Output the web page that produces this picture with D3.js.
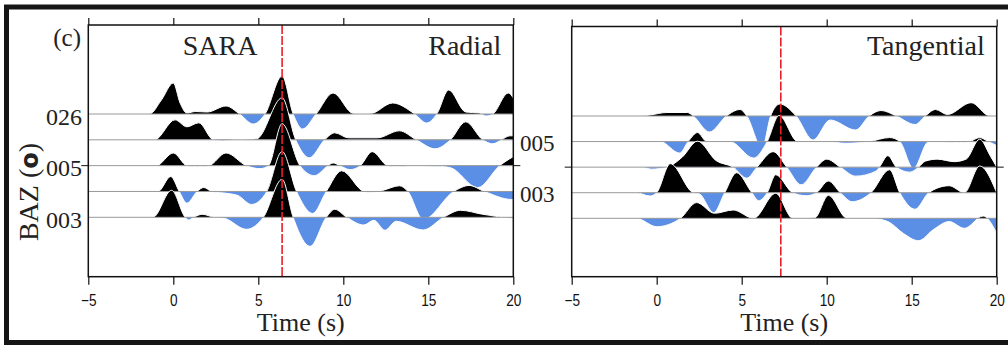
<!DOCTYPE html>
<html>
<head>
<meta charset="utf-8">
<script src="https://cdn.jsdelivr.net/npm/d3@7"></script>
<style>
  body { margin: 0; background: #fff; }
  svg { display: block; }
</style>
</head>
<body>
<div id="chart"></div>
<script>
"use strict";
// receiver functions: [time (s), amplitude]
// radial component, top trace first
const radial1 = [[-5,0],[-1.4,0],[-0.7,14],[0,31],[0.4,11],[0.8,1],[1.3,2.5],[2,2],[3.1,8],[3.9,0],[4.7,-10],[5.4,0],[6.4,38],[7.05,0],[7.6,-15],[8.4,0],[9.4,21],[10.6,0.5],[11.6,0.5],[12.9,11],[14.2,0],[14.9,-9],[15.5,0],[16.2,24],[17.2,2],[18.0,1],[18.4,-2],[18.8,0],[19.7,21],[20,16]]
const radial2 = [[-5,0],[-1.1,0],[0.1,20],[0.8,13],[1.5,17],[2.35,0],[2.9,-1],[3.6,0],[4.9,1],[6.4,42],[7.2,0],[8.0,-18],[8.9,0],[9.5,7],[10.3,2],[12,2],[13.3,9],[14.3,0],[15.4,-9],[16.3,0],[17.2,18],[18.2,0],[18.8,-4],[19.3,0],[19.8,4],[20,4]]
const radial3 = [[-5,0],[-1.0,0],[0,12.7],[0.8,0],[1.4,-1],[2.1,0],[3.1,12.7],[4.3,0],[5.1,-3],[5.6,0],[6.4,42],[7.45,0],[8.3,-10],[9.1,0],[9.4,2.7],[9.8,0],[10.4,-4],[11,0],[11.7,14],[12.6,0],[13.1,-1],[14,0],[15.5,-0.5],[16.3,-2],[17.9,-22],[19.2,0],[20,9]]
const radial4 = [[-5,0],[-0.9,0],[-0.15,15],[0.35,0],[0.8,-11.7],[1.4,0],[1.8,4],[2.25,0],[3.2,-2],[3.8,-4],[4.6,-13],[5.5,0],[6.4,40],[7.25,0],[8.2,-22],[9.0,0],[9.9,20.7],[11.2,0],[11.6,-1],[12.3,1],[13.3,5.7],[13.8,0],[14.7,-28],[16.5,0],[17.4,6],[18.3,0],[19.9,-8],[20,-8]]
const radial5 = [[-5,0],[-1.2,0],[-0.1,27],[0.7,0],[0.9,-2.7],[1.2,0],[1.7,3],[2.4,0],[3.0,-1],[4.3,-12],[5.3,0],[6.4,38],[7.05,0],[8.05,-29],[9.0,0],[9.5,8],[10.2,0],[11.2,-7.7],[11.8,-3],[12.45,-13],[13.1,-4],[14.7,-12.7],[15.9,0],[16.9,7],[18.2,3],[18.6,2],[19.3,0],[20,-1]]

// tangential component
const tang1 = [[-5,0],[-1,0],[-0.4,1],[0.6,3.5],[1.8,3.5],[2.15,0],[3.1,-16],[4.1,0],[4.9,6.5],[5.3,0],[6.2,-32],[6.7,0],[7.25,12],[8.2,0],[9.2,-24],[10.2,-4],[11.7,-14],[12.5,0],[13.2,5.5],[14.1,0],[15.2,-8.5],[15.8,0],[16.4,6.5],[17.1,1.5],[18.5,13.3],[19.6,0],[20,0]]
const tang2 = [[-5,0],[0.2,0],[1.35,-11.5],[1.85,0],[2.4,9],[2.95,0],[4.3,0],[5.7,-16.5],[6.5,0],[7.2,26],[8.3,0],[10,0],[11.1,-1.7],[12.5,0],[13.7,4],[14.3,0],[15.1,-27],[16.0,0],[17.8,-1],[18.4,0],[19.0,4],[19.5,0],[20,-4]]
const tang3 = [[-5,0],[-0.9,0],[-0.3,-2],[0.6,0],[1.5,10],[2.4,26],[3.5,6.5],[4.5,0],[5.3,-11],[5.9,0],[6.85,15.5],[7.65,0],[8.5,-17.7],[9.4,0],[10,8],[10.8,0],[11.7,-9],[12.9,-4],[13.1,0],[13.6,11.5],[14.1,0],[14.9,-5],[15.4,0],[15.8,6],[16.5,8],[17.5,5.5],[18.2,8],[19.0,28],[19.6,12],[20,0]]
const tang4 = [[-5,0],[-1.2,0],[-0.4,-3.3],[0,0],[0.8,29],[2.15,0],[2.5,-1],[3.35,-20],[4.0,0],[4.7,20],[5.6,0],[6.0,-8],[6.5,0],[7.0,18],[8.0,0],[8.8,-3],[9.4,0],[10.1,11.7],[10.8,0],[11.5,-9],[12.6,0],[13.7,23],[14.3,0],[15.2,-16.5],[16.0,0],[17.2,7],[18.1,0],[19.0,26.7],[20,0]]
const tang5 = [[-5,0],[-1.2,0],[0,-8.4],[1.4,0],[2.35,15.7],[3.4,5],[4.5,8.3],[5.7,0],[7.0,25],[8.0,0],[9.3,0.5],[10.1,23],[11.2,0],[12.6,0],[13.6,-3.3],[14.5,-15],[15.4,-22.4],[16.3,-11],[17.2,-3.3],[18.1,-10],[19.2,2.3],[20,-15]]

const timeTicks = [-5, 0, 5, 10, 15, 20]
const radialBazLabels = ["026", "005", "003"]     // traces 1, 3, 5
const tangBazLabels = ["005", "003"]              // traces 2, 4
const phaseTimes = [6.4, 7.3]                      // red dashed markers
const panelTitles = ["Radial", "Tangential"]

const blue = "#5b8fe6"
const serif = "'Liberation Serif', 'Times New Roman', serif"
const svg = d3.select("#chart").append("svg")
    .attr("width", 1008)
    .attr("height", 345)
const defs = svg.append("defs")

// outer frame
svg.append("rect")
    .attr("x", 6.5).attr("y", 7)
    .attr("width", 1010).attr("height", 335.5)
    .attr("fill", "none")
    .attr("stroke", "#151515")
    .attr("stroke-width", 5)

const panels = [
    { traces: [radial1, radial2, radial3, radial4, radial5], x0: 88.3, x1: 513.3, top: 25, bottom: 276.7, base: [114, 217.3] },
    { traces: [tang1, tang2, tang3, tang4, tang5], x0: 571.7, x1: 996.7, top: 26.5, bottom: 276.7, base: [116, 218.3] }
]

// amplitude units are drawn at 1 px per unit, upward
const scaleAmp = d3.scaleLinear().domain([0, 10]).range([0, -10])

panels.forEach((p, pi) => {
    const scaleX = d3.scaleLinear().domain([-5, 20]).range([p.x0, p.x1])
    const scaleBase = d3.scaleLinear().domain([0, p.traces.length - 1]).range(p.base)
    const g = svg.append("g")

    p.traces.forEach((trace, i) => {
        const base = scaleBase(i)
        const upId = `up-${pi}-${i}`
        const downId = `down-${pi}-${i}`
        defs.append("clipPath").attr("id", upId).append("rect")
            .attr("x", p.x0).attr("y", 0).attr("width", p.x1 - p.x0).attr("height", base)
        defs.append("clipPath").attr("id", downId).append("rect")
            .attr("x", p.x0).attr("y", base).attr("width", p.x1 - p.x0).attr("height", 345 - base)

        const area = d3.area()
            .x(d => scaleX(d[0]))
            .y0(base)
            .y1(d => base + scaleAmp(d[1]))
            .curve(d3.curveMonotoneX)
        const line = d3.line()
            .x(d => scaleX(d[0]))
            .y(d => base + scaleAmp(d[1]))
            .curve(d3.curveMonotoneX)

        g.append("path").attr("d", area(trace)).attr("fill", "#000").attr("clip-path", `url(#${upId})`)
        g.append("path").attr("d", area(trace)).attr("fill", blue).attr("clip-path", `url(#${downId})`)
        g.append("path").attr("d", line(trace))
            .attr("fill", "none").attr("stroke", "#fff").attr("stroke-width", 1)
        g.append("line")
            .attr("x1", p.x0).attr("x2", p.x1)
            .attr("y1", base).attr("y2", base)
            .attr("stroke", "#999").attr("stroke-width", 1)
    })

    // phase marker
    g.append("line")
        .attr("x1", scaleX(phaseTimes[pi])).attr("x2", scaleX(phaseTimes[pi]))
        .attr("y1", p.top).attr("y2", p.bottom)
        .attr("stroke", "#e8202a").attr("stroke-width", 1.6)
        .attr("stroke-dasharray", "9,2")

    // frame
    g.append("rect")
        .attr("x", p.x0).attr("y", p.top)
        .attr("width", p.x1 - p.x0).attr("height", p.bottom - p.top)
        .attr("fill", "none").attr("stroke", "#111").attr("stroke-width", 1.5)

    // axes
    const xAxis = d3.axisBottom(scaleX).tickValues(timeTicks).tickSize(8).tickPadding(10).tickSizeOuter(0)
    const topAxis = d3.axisTop(scaleX).tickValues(timeTicks).tickSize(7).tickFormat("").tickSizeOuter(0)
    g.append("g").attr("transform", `translate(0,${p.bottom})`).call(xAxis)
        .attr("font-size", 16)
        .call(a => a.select(".domain").remove())
        .call(a => a.selectAll("line").attr("stroke", "#111").attr("stroke-width", 1.2))
        .call(a => a.selectAll("text")
            .attr("font-family", "'Liberation Sans', Arial, sans-serif")
            .attr("font-size", 16)
            .attr("fill", "#111")
            .attr("transform", "scale(0.85,1)"))
    g.append("g").attr("transform", `translate(0,${p.top})`).call(topAxis)
        .call(a => a.select(".domain").remove())
        .call(a => a.selectAll("line").attr("stroke", "#111").attr("stroke-width", 1.2))

    // middle-trace ticks on both sides
    const mid = scaleBase(2)
    g.append("line").attr("x1", p.x0 - 7).attr("x2", p.x0).attr("y1", mid).attr("y2", mid).attr("stroke", "#111")
    g.append("line").attr("x1", p.x1).attr("x2", p.x1 + 7).attr("y1", mid).attr("y2", mid).attr("stroke", "#111")

    // axis title
    g.append("text")
        .attr("x", (p.x0 + p.x1) / 2).attr("y", 331)
        .attr("text-anchor", "middle")
        .attr("font-family", serif)
        .attr("font-size", 26)
        .attr("fill", "#222")
        .text("Time (s)")

    g.append("text")
        .attr("x", p.x1 - 12).attr("y", 55)
        .attr("text-anchor", "end")
        .attr("font-family", serif)
        .attr("font-size", 28)
        .attr("fill", "#222")
        .text(panelTitles[pi])

    if (pi === 0) {
        radialBazLabels.forEach((lab, k) => {
            g.append("text")
                .attr("x", 82).attr("y", scaleBase(k * 2) + 10.5)
                .attr("text-anchor", "end")
                .attr("font-family", serif)
                .attr("font-size", 24)
                .attr("fill", "#222")
                .text(lab)
        })
    } else {
        tangBazLabels.forEach((lab, k) => {
            g.append("text")
                .attr("x", 520).attr("y", scaleBase(k * 2 + 1) + 9.5)
                .attr("font-family", serif)
                .attr("font-size", 23)
                .attr("fill", "#222")
                .text(lab)
        })
    }
})

svg.append("text")
    .attr("x", 182.7).attr("y", 55)
    .attr("font-family", serif).attr("font-size", 28).attr("fill", "#222")
    .text("SARA")
svg.append("text")
    .attr("x", 81).attr("y", 46)
    .attr("text-anchor", "end")
    .attr("font-family", serif).attr("font-size", 25).attr("fill", "#222")
    .text("(c)")

const baz = svg.append("text")
    .attr("transform", "translate(38,192) rotate(-90)")
    .attr("text-anchor", "middle")
    .attr("font-family", serif).attr("font-size", 28).attr("fill", "#222")
baz.append("tspan").text("BAZ (")
baz.append("tspan").attr("font-family", "'DejaVu Sans', sans-serif").attr("font-weight", "bold").attr("font-size", 24).text("o")
baz.append("tspan").text(")")
</script>
</body>
</html>
